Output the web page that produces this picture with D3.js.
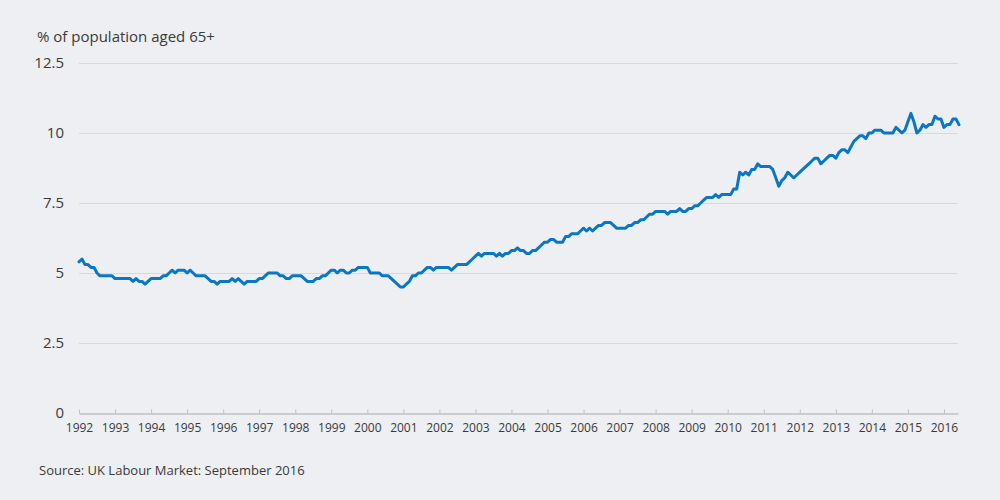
<!DOCTYPE html>
<html><head><meta charset="utf-8">
<script src="https://cdn.jsdelivr.net/npm/d3@7"></script>
<style>
html,body{margin:0;padding:0;background:#edeff3;}
svg{display:block;font-family:"Open Sans",sans-serif;}
</style></head>
<body>
<svg id="chart" width="1000" height="500"></svg>
<script>
const startYear = 1992;
const endYear = 2016.39;
const yearTicks = d3.range(1992, 2017);
const valueTicks = [0, 2.5, 5, 7.5, 10, 12.5];
const tickLabels = ["0", "2.5", "5", "7.5", "10", "12.5"];
const titleText = "% of population aged 65+";
const sourceText = "Source: UK Labour Market: September 2016";
// monthly share of population aged 65+ in employment, Jan 1992 onward
const values = [
 5.4,5.5,5.3,5.3,5.2,5.2,5.0,4.9,4.9,4.9,4.9,4.9,
 4.8,4.8,4.8,4.8,4.8,4.8,4.7,4.8,4.7,4.7,4.6,4.7,
 4.8,4.8,4.8,4.8,4.9,4.9,5.0,5.1,5.0,5.1,5.1,5.1,
 5.0,5.1,5.0,4.9,4.9,4.9,4.9,4.8,4.7,4.7,4.6,4.7,
 4.7,4.7,4.7,4.8,4.7,4.8,4.7,4.6,4.7,4.7,4.7,4.7,
 4.8,4.8,4.9,5.0,5.0,5.0,5.0,4.9,4.9,4.8,4.8,4.9,
 4.9,4.9,4.9,4.8,4.7,4.7,4.7,4.8,4.8,4.9,4.9,5.0,
 5.1,5.1,5.0,5.1,5.1,5.0,5.0,5.1,5.1,5.2,5.2,5.2,
 5.2,5.0,5.0,5.0,5.0,4.9,4.9,4.9,4.8,4.7,4.6,4.5,
 4.5,4.6,4.7,4.9,4.9,5.0,5.0,5.1,5.2,5.2,5.1,5.2,
 5.2,5.2,5.2,5.2,5.1,5.2,5.3,5.3,5.3,5.3,5.4,5.5,
 5.6,5.7,5.6,5.7,5.7,5.7,5.7,5.6,5.7,5.6,5.7,5.7,
 5.8,5.8,5.9,5.8,5.8,5.7,5.7,5.8,5.8,5.9,6.0,6.1,
 6.1,6.2,6.2,6.1,6.1,6.1,6.3,6.3,6.4,6.4,6.4,6.5,
 6.6,6.5,6.6,6.5,6.6,6.7,6.7,6.8,6.8,6.8,6.7,6.6,
 6.6,6.6,6.6,6.7,6.7,6.8,6.8,6.9,6.9,7.0,7.1,7.1,
 7.2,7.2,7.2,7.2,7.1,7.2,7.2,7.2,7.3,7.2,7.2,7.3,
 7.3,7.4,7.4,7.5,7.6,7.7,7.7,7.7,7.8,7.7,7.8,7.8,
 7.8,7.8,8.0,8.0,8.6,8.5,8.6,8.5,8.7,8.7,8.9,8.8,
 8.8,8.8,8.8,8.7,8.4,8.1,8.3,8.4,8.6,8.5,8.4,8.5,
 8.6,8.7,8.8,8.9,9.0,9.1,9.1,8.9,9.0,9.1,9.2,9.2,
 9.1,9.3,9.4,9.4,9.3,9.5,9.7,9.8,9.9,9.9,9.8,10.0,
 10.0,10.1,10.1,10.1,10.0,10.0,10.0,10.0,10.2,10.1,10.0,10.1,
 10.4,10.7,10.4,10.0,10.1,10.3,10.2,10.3,10.3,10.6,10.5,10.5,
 10.2,10.3,10.3,10.5,10.5,10.3
];

const svg = d3.select("#chart");
const x = d3.scaleLinear().domain([startYear, endYear]).range([79, 958]);
const y = d3.scaleLinear().domain([0, 12.5]).range([413, 63]);

// gridlines
svg.append("g").selectAll("line").data(valueTicks.filter(v => v > 0)).join("line")
  .attr("x1", 79).attr("x2", 958)
  .attr("y1", d => y(d) + 0.5).attr("y2", d => y(d) + 0.5)
  .attr("stroke", "#d7d9de").attr("stroke-width", 1);

// y labels
svg.append("g").selectAll("text").data(valueTicks).join("text")
  .attr("x", 64).attr("y", d => y(d)).attr("dy", "0.35em")
  .attr("text-anchor", "end").attr("font-size", 15).attr("fill", "#3a3a3a")
  .text((d, i) => tickLabels[i]);

// x axis
const xAxis = d3.axisBottom(x).tickValues(yearTicks).tickFormat(d3.format("d")).tickSizeInner(-4).tickSizeOuter(0).tickPadding(10);
const gx = svg.append("g").attr("transform", `translate(0,${y(0) + 0.5})`).call(xAxis);
gx.select(".domain").attr("stroke", "#bfc1c6").attr("stroke-width", 1.5);
gx.selectAll(".tick line").attr("stroke", "#bfc1c6");
gx.selectAll(".tick text").attr("font-size", 12).attr("fill", "#3a3a3a").attr("font-family", "Open Sans, sans-serif");

// line
const line = d3.line().x((d, i) => x(startYear + i / 12)).y(d => y(d));
svg.append("path").datum(values)
  .attr("d", line).attr("fill", "none")
  .attr("stroke", "#0a77c2").attr("stroke-width", 3)
  .attr("stroke-linejoin", "round").attr("stroke-linecap", "round");

// title & source
svg.append("text").attr("x", 37).attr("y", 42).attr("font-size", 15).attr("fill", "#3a3a3a").text(titleText);
svg.append("text").attr("x", 39).attr("y", 475).attr("font-size", 13).attr("fill", "#3a3a3a").text(sourceText);
</script>
</body></html>
